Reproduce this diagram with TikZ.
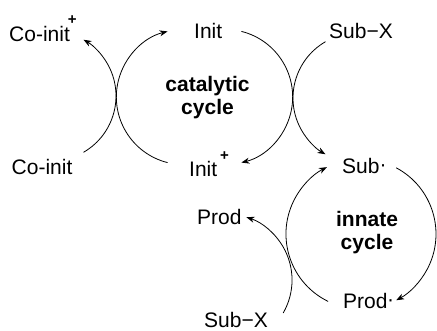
\documentclass[tikz,border=0pt]{standalone}
\usepackage{fontspec}
\setmainfont{Liberation Sans}
\usetikzlibrary{arrows.meta}
\begin{document}
\begin{tikzpicture}[x=1pt,y=-1pt,
  lbl/.style={anchor=base west, inner sep=0pt, font=\fontsize{21}{25}\selectfont},
  cyc/.style={align=center, inner sep=0pt, font=\bfseries\fontsize{21}{23}\selectfont},
  rx/.style={line width=0.8pt, -{Stealth[length=8pt,width=6pt,inset=2.5pt]}}]
\useasboundingbox (0,0) rectangle (437,331);
\newcommand\plussup[1]{\raisebox{#1}{\fontsize{15}{15}\selectfont\bfseries +}}
\newcommand\raddot{\raisebox{2pt}{·}}
% labels
\node[lbl] (coinitp) at (9,41.5) {Co-init\kern-2pt\plussup{16.5pt}};
\node[lbl] (init) at (194,39) {Init};
\node[lbl] (subx) at (329,39) {Sub−X};
\node[lbl] (coinit) at (11.5,175) {Co-init};
\node[lbl] (initp) at (189,176.5) {Init\kern3pt\plussup{15.5pt}};
\node[lbl] (subr) at (342,173.5) {Sub\kern0pt\raddot};
\node[lbl] (prod) at (197,225) {Prod};
\node[lbl] (prodr) at (343,309) {Prod\kern-0.5pt\raddot};
\node[lbl] (subx2) at (204,327.5) {Sub−X};
\node[cyc] (cat) at (207.5,97.5) {catalytic\\cycle};
\node[cyc] (inn) at (367,233) {innate\\cycle};
% arc start points
\coordinate (a1) at (83.5,152.3);
\coordinate (a2) at (167.6,162.6);
\coordinate (a3) at (241.4,31.4);
\coordinate (a4) at (325.5,41.7);
\coordinate (a6) at (396.2,167.8);
\coordinate (a7) at (328.1,301.4);
\coordinate (a5) at (283.2,313);
% arcs
\draw[rx] (a1) arc[start angle=60, end angle=-60, radius=65];
\draw[rx] (a2) arc[start angle=104, end angle=256, radius=67.6];
\draw[rx] (a3) arc[start angle=-76, end angle=76, radius=67.6];
\draw[rx] (a4) arc[start angle=240, end angle=120, radius=65];
\draw[rx] (a6) arc[start angle=-62, end angle=62, radius=75];
\draw[rx] (a7) arc[start angle=116, end angle=243, radius=75];
\draw[rx] (a5) arc[start angle=30, end angle=-72, radius=66];
\end{tikzpicture}
\end{document}
